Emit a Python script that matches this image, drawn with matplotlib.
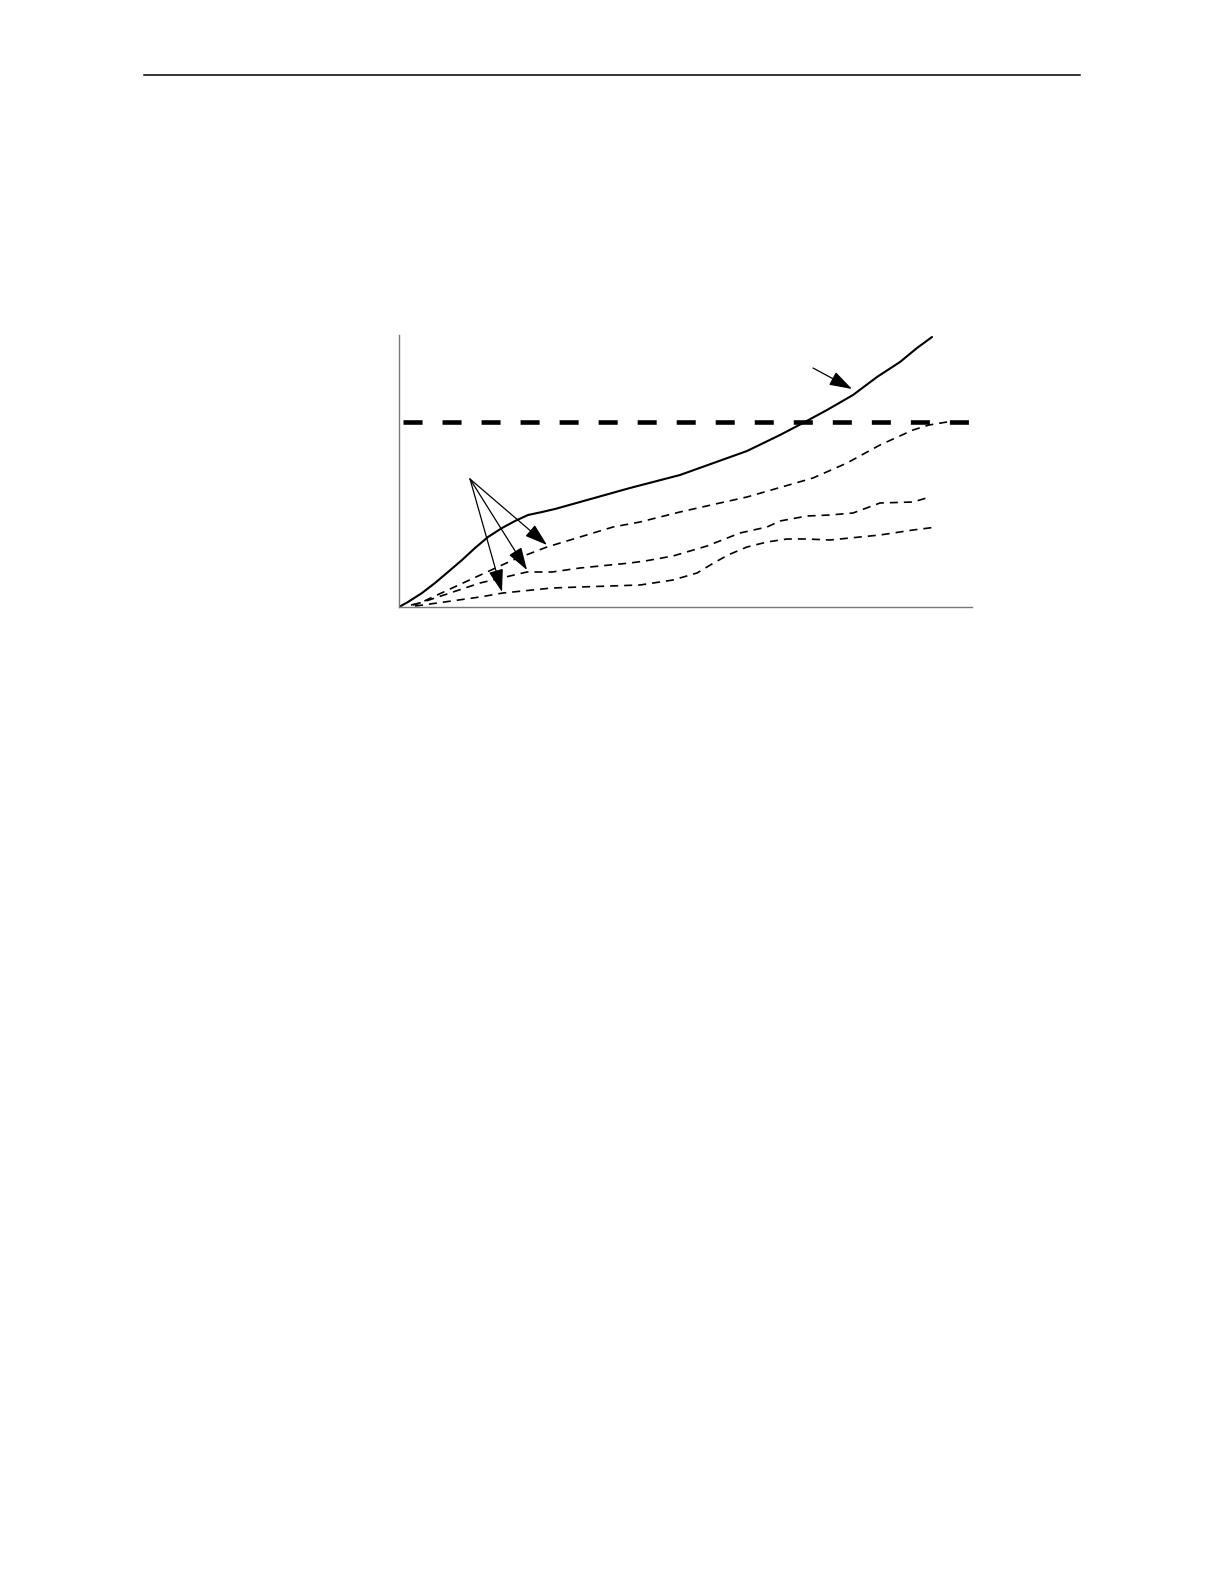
import numpy as np
import matplotlib
matplotlib.use('Agg')
import matplotlib.pyplot as plt
from matplotlib.lines import Line2D

plt.rcParams['lines.scale_dashes'] = False

# values (arbitrary units, origin at the axes corner)
solid_x = [0, 9, 23, 36, 49, 63, 76, 89, 103, 116, 129, 143, 156, 181, 231, 281,
           348, 381, 404, 428, 454, 478, 501, 518, 533]
solid_y = [0, 5, 14, 24, 35, 47, 59, 70, 79, 86, 92, 95, 98, 105, 119, 132,
           156, 172, 184, 197, 212, 230, 245, 259, 270]

limit_x = [4, 571]
limit_y = [185, 185]

upper_x = [12, 21, 64, 114, 148, 214, 241, 281, 321, 348, 414, 448, 481, 514, 530, 548]
upper_y = [2, 4, 24, 47, 60, 80, 85, 95, 104, 110, 129, 144, 162, 177, 182, 185]

middle_x = [14, 24, 81, 128, 153, 181, 231, 246, 274, 308, 341, 368, 381, 408, 431,
            454, 481, 514, 531]
middle_y = [2, 5, 24, 35, 35, 39, 44, 46, 51, 61, 74, 80, 86, 91, 92,
            94, 104, 105, 110]

lower_x = [16, 24, 81, 104, 153, 181, 241, 274, 298, 313, 329, 348, 368, 388, 408,
           431, 481, 514, 538]
lower_y = [1, 2, 10, 14, 19, 20, 22, 27, 34, 43, 52, 60, 65, 68, 68,
           67, 72, 77, 80]

group_arrow_start = (71, 128)
group_arrow_tips = [(103, 15), (128, 37), (148, 62)]
solid_arrow_start = (414, 239)
solid_arrow_tip = (453, 218)

fig = plt.figure(figsize=(12.24, 15.84), dpi=100)
ax = fig.add_axes([399 / 1224, 1 - 607 / 1584, 573 / 1224, 272 / 1584])

ax.plot(solid_x, solid_y, color='black', lw=1.5, solid_capstyle='round')
ax.plot(limit_x, limit_y, color='black', lw=3.3, linestyle=(0, (13.7, 14.4)))
thin = (0, (5.8, 4.3))
ax.plot(upper_x, upper_y, color='black', lw=1.2, linestyle=thin)
ax.plot(middle_x, middle_y, color='black', lw=1.2, linestyle=thin)
ax.plot(lower_x, lower_y, color='black', lw=1.2, linestyle=thin)

arrow = dict(arrowstyle='-|>,head_length=1.4,head_width=0.45', mutation_scale=10,
             color='black', lw=0.9, shrinkA=0, shrinkB=0)
for tip in group_arrow_tips:
    ax.annotate('', xy=tip, xytext=group_arrow_start, arrowprops=arrow)
ax.annotate('', xy=solid_arrow_tip, xytext=solid_arrow_start, arrowprops=arrow)

ax.set_xlim(0, 573)
ax.set_ylim(0, 272)
ax.set_xticks([])
ax.set_yticks([])
ax.spines['top'].set_visible(False)
ax.spines['right'].set_visible(False)
for s in ['left', 'bottom']:
    ax.spines[s].set_color('#777777')
    ax.spines[s].set_linewidth(1.0)
ax.patch.set_alpha(0)

# page header rule
fig.add_artist(Line2D([144 / 1224, 1080 / 1224], [1 - 75 / 1584] * 2,
                      color='black', lw=1.1))

plt.savefig('out.png', dpi=100, facecolor='white')
